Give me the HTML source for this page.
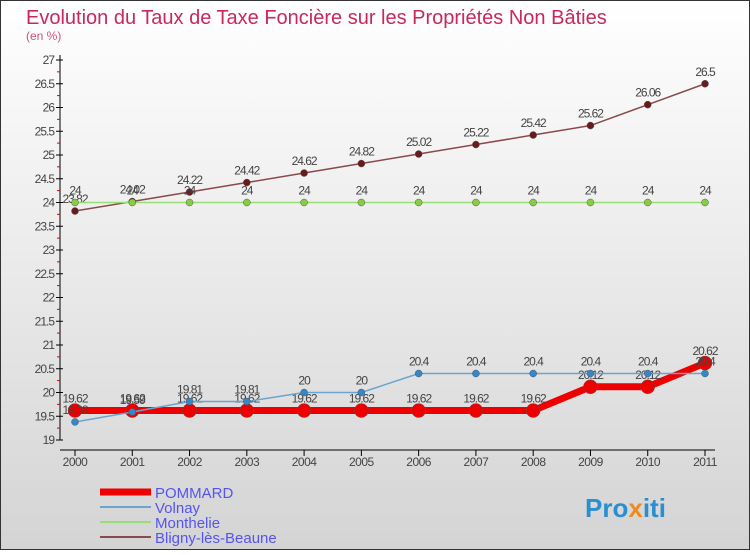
<!DOCTYPE html>
<html><head><meta charset="utf-8"><style>
body{margin:0}
svg text{font-family:"Liberation Sans",sans-serif}
</style></head><body>
<svg id="c" width="750" height="550" xmlns="http://www.w3.org/2000/svg">
<defs><linearGradient id="bg" x1="0" y1="0" x2="0" y2="1"><stop offset="0" stop-color="#ffffff"/><stop offset="1" stop-color="#d4d4d4"/></linearGradient></defs>
<rect x="0.5" y="0.5" width="749" height="549" fill="url(#bg)" stroke="#333"/>
<text x="26" y="24" font-size="20" fill="#c8285a">Evolution du Taux de Taxe Foncière sur les Propriétés Non Bâties</text>
<text x="26" y="40" font-size="12" fill="#d05080">(en %)</text>
<g id="axes"></g><g id="series"></g><g id="legend"></g>
<text x="585" y="517" font-size="26" font-weight="bold" fill="#2a8fd0">Pro<tspan fill="#f08a1c">x</tspan>iti</text>
</svg>
<script>
const years=[2000,2001,2002,2003,2004,2005,2006,2007,2008,2009,2010,2011];
const yTicks=[19,19.5,20,20.5,21,21.5,22,22.5,23,23.5,24,24.5,25,25.5,26,26.5,27];
const pommard=[19.62,19.62,19.62,19.62,19.62,19.62,19.62,19.62,19.62,20.12,20.12,20.62];
const volnay=[19.38,19.59,19.81,19.81,20,20,20.4,20.4,20.4,20.4,20.4,20.4];
const monthelie=[24,24,24,24,24,24,24,24,24,24,24,24];
const bligny=[23.82,24.02,24.22,24.42,24.62,24.82,25.02,25.22,25.42,25.62,26.06,26.5];
const NS="http://www.w3.org/2000/svg";
const xs=i=>75+i*(630/11);
const ys=v=>440-(v-19)*47.5;
function mk(tag,attrs,parent,txt){const e=document.createElementNS(NS,tag);for(const k in attrs)e.setAttribute(k,attrs[k]);if(txt!==undefined)e.textContent=txt;parent.appendChild(e);return e;}
const ax=document.getElementById('axes');
let e=mk('line',{x1:60,y1:55,x2:60,y2:440,stroke:'#000'},ax);


e=mk('line',{x1:60,y1:450,x2:715,y2:450,stroke:'#000'},ax);


yTicks.forEach(v=>{const y=ys(v);
 mk('line',{x1:56,y1:y,x2:63,y2:y,stroke:'#000'},ax);
 if(v<27)mk('line',{x1:57,y1:y-11.9,x2:60,y2:y-11.9,stroke:'#e00000'},ax);
 const t=mk('text',{x:54,y:y+4,'font-size':12,'text-anchor':'end',fill:'#444','letter-spacing':'-1'},ax,String(v));
 
 });
years.forEach((yr,i)=>{const x=xs(i);
 mk('line',{x1:x,y1:450,x2:x,y2:456,stroke:'#000'},ax);
 const t=mk('text',{x:x,y:466,'font-size':12,'text-anchor':'middle',fill:'#444','letter-spacing':'-0.5'},ax,String(yr));
 
 });
const sg=document.getElementById('series');
function series(name,data,color,w,r,mcol){
 const g=mk('g',{},sg);
 
 
 const pl=mk('polyline',{points:data.map((v,i)=>xs(i)+','+ys(v)).join(' '),fill:'none',stroke:color,'stroke-width':w},g);
 
 
 data.forEach((v,i)=>{const c=mk('circle',{cx:xs(i),cy:ys(v),r:r,fill:mcol,stroke:'#555','stroke-width':0.5},g);
  
  
  const t=mk('text',{x:xs(i),y:ys(v)-8,'font-size':12,'text-anchor':'middle',fill:'#444','letter-spacing':'-1'},g,String(v));
  
  });
}
series('bligny',bligny,'#8a4a4a',1.5,3.5,'#6a1a1a');
series('monthelie',monthelie,'#99dd77',1.5,3.5,'#88cc44');
series('pommard',pommard,'#ee0000',7,7,'#ee0000');
series('volnay',volnay,'#6aa4d0',1.5,3.5,'#3388cc');
const lg=document.getElementById('legend');
[['POMMARD','#ee0000',7],['Volnay','#6aa4d0',2],['Monthelie','#99dd77',2],['Bligny-lès-Beaune','#8a4a4a',2]].forEach((d,i)=>{
 const y=492+i*15;
 const l=mk('line',{x1:100,y1:y,x2:151,y2:y,stroke:d[1],'stroke-width':d[2]},lg);
 
 
 const t=mk('text',{x:155,y:y+6,'font-size':15,fill:'#5555ee'},lg,d[0]);
 
 
});
</script>
</body></html>
